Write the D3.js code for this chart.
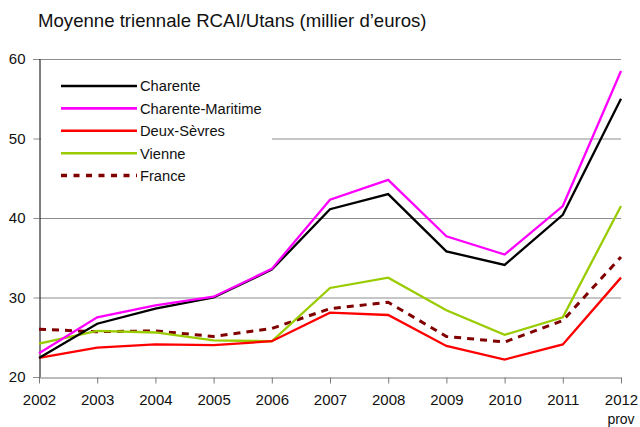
<!DOCTYPE html>
<html>
<head>
<meta charset="utf-8">
<script src="https://cdn.jsdelivr.net/npm/d3@7"></script>
<style>
body{margin:0;background:#fff}
text{font-family:Arial,"Liberation Sans",sans-serif;fill:#111}
</style>
</head>
<body>
<div id="graph"></div>
<script>
"use strict"
var years=[2002,2003,2004,2005,2006,2007,2008,2009,2010,2011,2012]
var yTicks=[20,30,40,50,60]
var charente=[22.4,26.7,28.6,30.0,33.5,41.1,43.0,35.8,34.1,40.4,55.0]
var charenteMaritime=[23.0,27.5,29.0,30.1,33.6,42.3,44.8,37.7,35.4,41.5,58.5]
var deuxSevres=[22.4,23.7,24.1,24.0,24.5,28.1,27.8,23.9,22.2,24.1,32.5]
var vienne=[24.2,25.8,25.6,24.6,24.5,31.2,32.5,28.4,25.3,27.5,41.5]
var france=[26.0,25.7,25.8,25.1,26.1,28.6,29.4,25.1,24.4,27.1,35.1]
var seriesNames=['Charente','Charente-Maritime','Deux-Sèvres','Vienne','France']
var seriesColors=['#000000','#ff00ff','#ff0000','#99cc00','#800000']
var seriesData=[charente,charenteMaritime,deuxSevres,vienne,france]

var W=640,H=427
var svg=d3.select('#graph').append('svg').attr('width',W).attr('height',H)

var x=d3.scalePoint().domain(years).range([39,621])
var y=d3.scaleLinear().domain([20,60]).range([377,59])

// title
svg.append('text').attr('x',38).attr('y',27).attr('font-size',18.6).text('Moyenne triennale RCAI/Utans (millier d’euros)')

// gridlines
svg.append('g').selectAll('line').data(yTicks.filter(function(d){return d>20}))
  .enter().append('line')
  .attr('x1',39).attr('x2',621).attr('y1',function(d){return y(d)+.5}).attr('y2',function(d){return y(d)+.5})
  .attr('stroke','#8c8c8c').attr('stroke-width',1)

// y axis
var yAxis=svg.append('g').attr('transform','translate(39.5,0)')
  .call(d3.axisLeft(y).tickValues(yTicks).tickSize(6).tickPadding(8))
yAxis.select('.domain').attr('stroke','#000')
yAxis.selectAll('.tick line').attr('stroke','#8c8c8c')
yAxis.selectAll('text').attr('font-size',15).attr('fill','#111')

// x axis
var xAxis=svg.append('g').attr('transform','translate(0,'+(y(20)+.5)+')')
  .call(d3.axisBottom(x).tickSize(6).tickSizeOuter(0).tickPadding(11))
xAxis.select('.domain').attr('stroke','#7a7a7a').attr('stroke-width',1.2)
xAxis.selectAll('.tick line').attr('stroke','#7a7a7a')
xAxis.selectAll('text').attr('font-size',15).attr('fill','#111')
svg.append('text').attr('x',x(2012)).attr('y',424).attr('text-anchor','middle').attr('font-size',14).text('prov')

// legend background hides the grid
svg.append('rect').attr('x',41).attr('y',68).attr('width',231).attr('height',122).attr('fill','#fff')

// series lines
var line=d3.line().x(function(d,i){return x(years[i])}).y(function(d){return y(d)})
var order=[4,3,2,0,1]
order.forEach(function(k){
  var p=svg.append('path').datum(seriesData[k]).attr('d',line)
    .attr('fill','none').attr('stroke',seriesColors[k]).attr('stroke-width',k==4?3:2.3)
    .attr('stroke-linejoin','miter')
  if(k==4)p.attr('stroke-dasharray','7,6')
})

// legend
var leg=svg.append('g')
seriesNames.forEach(function(n,i){
  var ly=86+i*22.4
  var l=leg.append('line').attr('x1',61).attr('x2',137).attr('y1',ly).attr('y2',ly)
    .attr('stroke',seriesColors[i]).attr('stroke-width',i==4?3.5:2.6)
  if(i==4)l.attr('stroke-dasharray','6,6.5')
  leg.append('text').attr('x',140).attr('y',ly+5.3).attr('font-size',14.7).text(n)
})
</script>
</body>
</html>
